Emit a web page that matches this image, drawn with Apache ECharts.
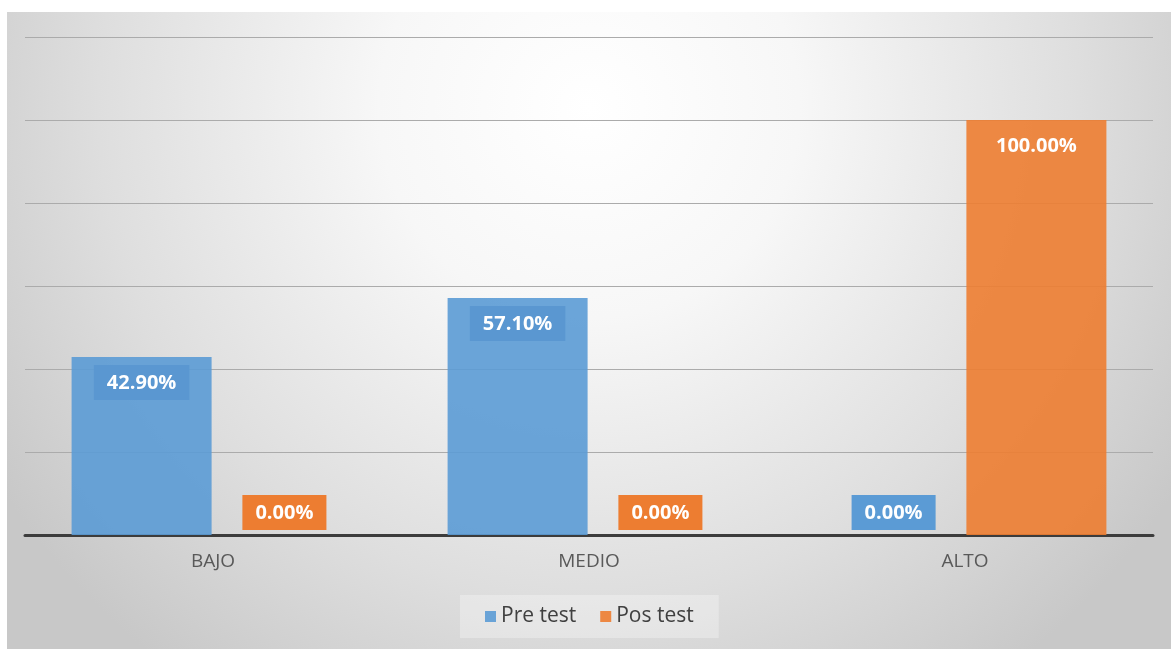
<!DOCTYPE html>
<html>
<head>
<meta charset="utf-8">
<script src="https://cdn.jsdelivr.net/npm/echarts@6/dist/echarts.min.js"></script>
<style>
  html, body { margin: 0; padding: 0; background: #ffffff; }
  #main { width: 1171px; height: 649px; }
</style>
</head>
<body>
<div id="main"></div>
<script>
  // categorias y valores (%)
  const categories = ['BAJO', 'MEDIO', 'ALTO'];
  const preTest = [42.9, 57.1, 0];
  const posTest = [0, 0, 100];
  const seriesNames = ['Pre test', 'Pos test'];

  const chart = echarts.init(document.getElementById('main'));

  // etiquetas: las de valor 0 van pegadas a la base
  const buildData = (values, boxColor, innerBox) => values.map(v => ({
    value: v,
    label: v === 0
      ? { position: 'insideBottom', distance: 5, backgroundColor: boxColor }
      : { position: 'insideTop', distance: 8, backgroundColor: innerBox }
  }));

  const labelStyle = {
    show: true,
    color: '#ffffff',
    fontFamily: 'Open Sans',
    fontWeight: 'bold',
    fontSize: 20,
    padding: [8, 13, 7, 13],
    formatter: p => p.value.toFixed(2) + '%'
  };

  const option = {
    animation: false,
    textStyle: { fontFamily: 'Open Sans' },
    graphic: [{
      type: 'rect',
      left: 7,
      top: 12,
      z: -100,
      silent: true,
      shape: { width: 1164, height: 637 },
      style: {
        fill: new echarts.graphic.RadialGradient(0.5, 0.15, 1.1, [
          { offset: 0, color: '#ffffff' },
          { offset: 0.3, color: '#f7f7f7' },
          { offset: 0.7, color: '#dedede' },
          { offset: 1, color: '#c8c8c8' }
        ])
      }
    }],
    legend: {
      data: seriesNames,
      left: 460,
      top: 595,
      padding: [11, 25],
      itemGap: 24,
      itemWidth: 11,
      itemHeight: 11,
      icon: 'rect',
      backgroundColor: 'rgba(255,255,255,0.3)',
      textStyle: { color: '#404040', fontSize: 21, fontFamily: 'Open Sans' }
    },
    grid: { left: 25, right: 18, top: 37, bottom: 114 },
    xAxis: {
      type: 'category',
      data: categories,
      axisLine: { lineStyle: { color: '#3c3c3c', width: 3 } },
      axisTick: { show: false },
      axisLabel: { color: '#595959', fontSize: 19, margin: 17, fontFamily: 'Open Sans' }
    },
    yAxis: {
      type: 'value',
      min: 0,
      max: 120,
      interval: 20,
      axisLabel: { show: false },
      axisLine: { show: false },
      axisTick: { show: false },
      splitLine: { lineStyle: { color: '#ababab', width: 1 } }
    },
    series: [
      {
        name: seriesNames[0],
        type: 'bar',
        barWidth: 140,
        barGap: '2%',
        itemStyle: { color: 'rgba(91,155,213,0.9)' },
        label: labelStyle,
        data: buildData(preTest, '#5b9bd5', '#5a97d1')
      },
      {
        name: seriesNames[1],
        type: 'bar',
        barWidth: 140,
        barGap: '2%',
        itemStyle: { color: 'rgba(237,125,49,0.9)' },
        label: labelStyle,
        data: buildData(posTest, '#ed7d31', 'rgba(0,0,0,0)')
      }
    ]
  };

  chart.setOption(option);
</script>
</body>
</html>
